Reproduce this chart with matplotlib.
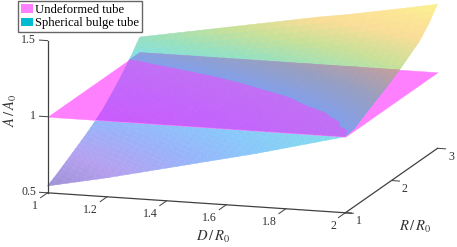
import numpy as np
import matplotlib
matplotlib.use("Agg")
import matplotlib.pyplot as plt
from matplotlib.colors import LinearSegmentedColormap
from matplotlib.patches import Patch
from matplotlib.path import Path
from mpl_toolkits.mplot3d import proj3d
from mpl_toolkits.mplot3d.art3d import Poly3DCollection

plt.rcParams['font.family'] = ['Liberation Serif', 'DejaVu Serif']
plt.rcParams['mathtext.fontset'] = 'stix'

D_values = [1.0, 1.1, 1.2, 1.3, 1.4, 1.5, 1.6, 1.7, 1.8, 1.9, 2.0]
R_values = [1.0, 1.2, 1.4, 1.6, 1.8, 2.0, 2.2, 2.4, 2.6, 2.8, 3.0]

# bulge tube area, one row per R value
bulge_area = np.array([
    [.545, .585, .625, .67, .715, .76, .805, .85, .90, .95, 1.0],
    [.58, .615, .65, .69, .73, .775, .825, .87, .92, .97, 1.012],
    [.62, .655, .69, .73, .77, .81, .855, .90, .945, .99, 1.05],
    [.66, .69, .725, .765, .805, .845, .885, .93, .975, 1.03, 1.085],
    [.70, .73, .765, .80, .84, .88, .93, .98, 1.025, 1.07, 1.12],
    [.745, .775, .81, .85, .89, .93, .975, 1.02, 1.065, 1.11, 1.155],
    [.795, .83, .87, .91, .945, .99, 1.035, 1.075, 1.115, 1.155, 1.195],
    [.86, .895, .935, .97, 1.01, 1.05, 1.09, 1.125, 1.165, 1.20, 1.24],
    [.93, .97, 1.005, 1.04, 1.075, 1.11, 1.145, 1.18, 1.215, 1.25, 1.285],
    [1.01, 1.045, 1.08, 1.115, 1.15, 1.185, 1.22, 1.25, 1.285, 1.32, 1.355],
    [1.10, 1.135, 1.17, 1.205, 1.24, 1.275, 1.31, 1.34, 1.375, 1.41, 1.447],
])

plane_D = [1.0, 2.0]
plane_R = [1.0, 3.0]
plane_level = 1.0

D_ticks = [1, 1.2, 1.4, 1.6, 1.8, 2]
R_ticks = [1, 2, 3]
A_ticks = [0.5, 1, 1.5]
legend_labels = ['Undeformed tube', 'Spherical bulge tube']

W, H = 457, 247
MAGENTA = np.array((1.0, 0.0, 1.0))
PLANE_ON_WHITE = 0.5 * MAGENTA + 0.5
AXIS_COLOR = '#404040'
TEXT_COLOR = '#333333'

cmap = LinearSegmentedColormap.from_list('bulge', [
    (0.00, (0.25, 0.14, 0.69)),
    (0.10, (0.41, 0.25, 0.88)),
    (0.22, (0.18, 0.41, 0.96)),
    (0.33, (0.06, 0.57, 0.96)),
    (0.50, (0.00, 0.76, 0.84)),
    (0.61, (0.18, 0.76, 0.49)),
    (0.72, (0.57, 0.76, 0.18)),
    (0.83, (0.96, 0.73, 0.18)),
    (0.92, (0.98, 0.80, 0.16)),
    (1.00, (0.96, 0.92, 0.10)),
])


def clip_level(tri, above):
    # keep the part of a polygon on one side of the plane
    out = []
    for i in range(len(tri)):
        p, q = tri[i], tri[(i + 1) % len(tri)]
        p_in = p[2] >= plane_level if above else p[2] <= plane_level
        q_in = q[2] >= plane_level if above else q[2] <= plane_level
        if p_in:
            out.append(p)
        if p_in != q_in:
            f = (plane_level - p[2]) / (q[2] - p[2])
            out.append(tuple(p[k] + f * (q[k] - p[k]) for k in range(3)))
    return out


def shade_cells(tri, n=3):
    # cut a flat facet into small pieces so its colour can change across it
    a, b, c = (np.array(p) for p in tri)
    pt = lambda i, j: tuple(a + (b - a) * i / n + (c - a) * j / n)
    cells = []
    for i in range(n):
        for j in range(n - i):
            cells.append([pt(i, j), pt(i + 1, j), pt(i, j + 1)])
            if i + j < n - 1:
                cells.append([pt(i + 1, j), pt(i + 1, j + 1), pt(i, j + 1)])
    return cells


def surface_cells():
    cells = []
    for j in range(len(R_values) - 1):
        for i in range(len(D_values) - 1):
            corners = [(D_values[a], R_values[b], bulge_area[b, a])
                       for a, b in [(i, j), (i + 1, j), (i + 1, j + 1), (i, j + 1)]]
            cells += shade_cells([corners[0], corners[1], corners[2]])
            cells += shade_cells([corners[0], corners[2], corners[3]])
    return cells


def tube_color(part):
    level = (np.mean([p[2] for p in part]) - 0.55) / 0.9
    return np.array(cmap(level)[:3])


def add_opaque(polys, colors, zorder, clip=None):
    # half transparent look, mixed by hand so the facets leave no seams
    coll = Poly3DCollection(polys, facecolors=colors, edgecolors=colors, linewidths=0.3)
    coll.set_zorder(zorder)
    ax.add_collection3d(coll)
    if clip is not None:
        coll.set_clip_path(clip, ax.transData)


fig = plt.figure(figsize=(W / 100, H / 100), dpi=100)
ax = fig.add_axes([9.4 / W, -80.6 / H, 454 / W, 454 / H], projection='3d', proj_type='ortho')
ax.set_box_aspect((1, 1, 0.5))
ax.view_init(elev=12.5, azim=-72.8)
ax.computed_zorder = False
ax.set_xlim(1, 2)
ax.set_ylim(1, 3)
ax.set_zlim(0.5, 1.5)
ax.set_axis_off()


def project(x, y, z):
    u, v, _ = proj3d.proj_transform(x, y, z, ax.get_proj())
    return u, v


def label3d(x, y, z, s, **kw):
    u, v = project(x, y, z)
    ax.text2D(u, v, s, va='center', fontsize=8.6, color=TEXT_COLOR, **kw)


plane_corners = [(plane_D[0], plane_R[0], plane_level), (plane_D[1], plane_R[0], plane_level),
                 (plane_D[1], plane_R[1], plane_level), (plane_D[0], plane_R[1], plane_level)]
plane_outline = Path([project(*c) for c in plane_corners] + [project(*plane_corners[0])], closed=True)

# bulge tube over the white background
cells = surface_cells()
polys = cells
colors = [0.5 * tube_color(c) + 0.5 for c in cells]
add_opaque(polys, colors, 1)

# the flat tube
add_opaque([plane_corners], [PLANE_ON_WHITE], 2)

# where both overlap: below the plane the flat tube is in front, above it the bulge tube
polys, colors = [], []
for c in cells:
    low = clip_level(c, False)
    if len(low) >= 3:
        polys.append(low)
        colors.append(0.5 * MAGENTA + 0.5 * (0.5 * tube_color(low) + 0.5))
    high = clip_level(c, True)
    if len(high) >= 3:
        polys.append(high)
        colors.append(0.5 * tube_color(high) + 0.5 * PLANE_ON_WHITE)
add_opaque(polys, colors, 3, clip=plane_outline)

# axis lines and ticks
ax.plot([1, 2.02], [1, 1], [0.5, 0.5], color=AXIS_COLOR, lw=0.9, zorder=5)
ax.plot([2, 2], [1, 3], [0.5, 0.5], color=AXIS_COLOR, lw=0.9, zorder=5)
ax.plot([1, 1], [1, 1], [0.5, 1.5], color=AXIS_COLOR, lw=0.9, zorder=5)

for d in D_ticks:
    ax.plot([d, d], [1, 0.85], [0.5, 0.5], color=AXIS_COLOR, lw=0.7, zorder=5)
    label3d(d, 0.8, 0.454, str(d), ha='right')
for r in R_ticks:
    ax.plot([2, 2.027], [r, r], [0.5, 0.5], color=AXIS_COLOR, lw=0.7, zorder=5)
    label3d(2.045, r, 0.45, str(r), ha='center')
for a in A_ticks:
    ax.plot([1, 0.973], [1, 1], [a, a], color=AXIS_COLOR, lw=0.7, zorder=5)
    label3d(0.962, 1, a, str(a), ha='right')

fig.text(213 / W, 1 - 237 / H, r'$D\,/\,R_0$', ha='center', va='center', fontsize=10.5, color=TEXT_COLOR)
fig.text(415 / W, 1 - 227 / H, r'$R\,/\,R_0$', ha='center', va='center', fontsize=10.5, color=TEXT_COLOR)
fig.text(10 / W, 1 - 110 / H, r'$A\,/\,A_0$', ha='center', va='center', rotation=90, fontsize=10.5, color=TEXT_COLOR)

handles = [Patch(facecolor='#ff80ff', edgecolor='none'), Patch(facecolor='#00bcd0', edgecolor='none')]
fig.legend(handles, legend_labels, loc='upper left', bbox_to_anchor=(18 / W, 1 - 1 / H), fontsize=9.1,
           fancybox=False, framealpha=1, edgecolor='#666666', borderaxespad=0, borderpad=0.2,
           labelspacing=0.15, handlelength=0.95, handleheight=0.7, handletextpad=0.2)

fig.savefig('out.png', dpi=100)
